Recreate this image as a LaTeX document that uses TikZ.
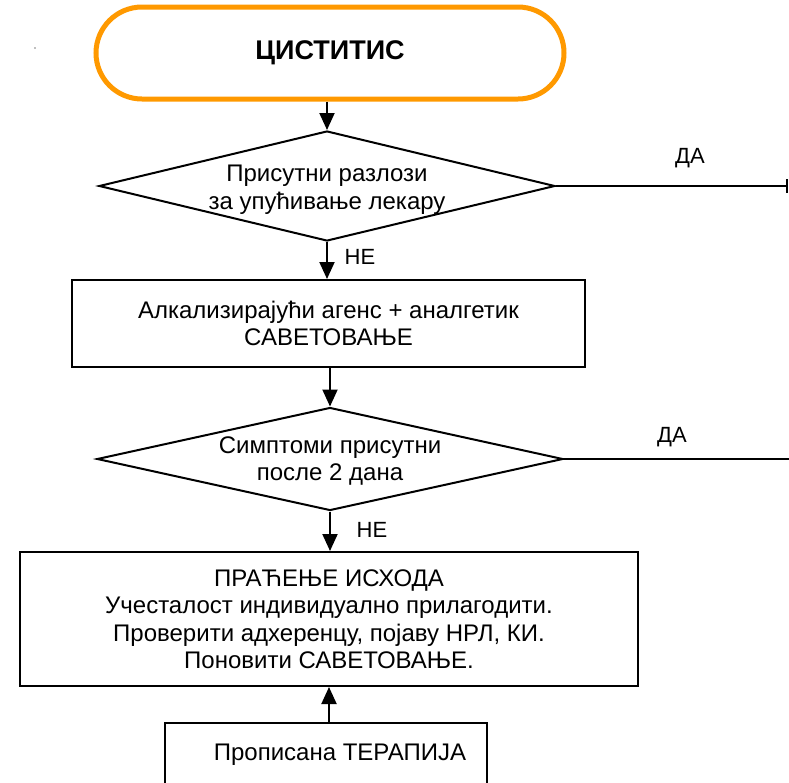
\documentclass[tikz,border=0pt]{standalone}
\usepackage{fontspec}
\setmainfont{Liberation Sans}
\usetikzlibrary{shapes.geometric,arrows.meta}

% centred lines in a zero-height box, lowered by the first argument
\newcommand{\lowerlines}[2]{\raisebox{-#1}[0pt][0pt]{\begin{tabular}{@{}c@{}}#2\end{tabular}}}

\begin{document}
\begin{tikzpicture}[x=1pt,y=-1pt,
  line/.style={line width=2pt,black},
  flow/.style={line,-{Triangle[length=17pt,width=15pt]}},
  bodytext/.style={font=\fontsize{24}{27.5}\selectfont},
  stepbox/.style={draw,line width=2pt,rectangle,align=center,bodytext,inner sep=0pt},
  decision/.style={draw,line width=2pt,diamond,align=center,bodytext,inner sep=0pt},
  terminal/.style={draw=termorange,line width=5pt,rounded corners=46pt,rectangle,
    align=center,font=\fontsize{27}{30}\selectfont\bfseries,inner sep=0pt},
  lbl/.style={font=\fontsize{22}{26}\selectfont}]
\definecolor{termorange}{RGB}{255,153,0}
\useasboundingbox (0,0) rectangle (789,782);

% start terminal
\node[terminal,minimum width=468pt,minimum height=92pt] (start) at (330,53) {ЦИСТИТИС};
\fill[gray] (35,48) circle (0.8pt);

% first decision and the box below it
\node[decision,aspect=4.15,minimum width=456pt,minimum height=110pt] (d1) at (327,186)
  {\lowerlines{10pt}{Присутни разлози\\за упућивање лекару}};
\coordinate (d1yes) at (788,186);
\node[stepbox,minimum width=513pt,minimum height=87pt] (b1) at (328.5,323.5)
  {Алкализирајући агенс + аналгетик\\САВЕТОВАЊЕ};

% second decision
\node[decision,aspect=4.52,minimum width=466pt,minimum height=103pt] (d2) at (330,459)
  {\lowerlines{8.5pt}{Симптоми присутни\\после 2 дана}};
\coordinate (d2yes) at (789,459);

% follow-up and therapy boxes
\node[stepbox,minimum width=618pt,minimum height=134pt] (b2) at (329,619)
  {ПРАЋЕЊЕ ИСХОДА\\Учесталост индивидуално прилагодити.\\Проверити адхеренцу, појаву НРЛ, КИ.\\Поновити САВЕТОВАЊЕ.};
\node[stepbox,minimum width=322pt,text height=37pt,text depth=45pt,anchor=north] (b3) at (326,722)
  {\hspace*{28pt}Прописана ТЕРАПИЈА};

% connectors
\draw[flow] (start.south -| d1.north) -- (d1.north);
\draw[flow] (d1.south) -- (d1.south |- b1.north);
\draw[flow] (b1.south -| d2.north) -- (d2.north);
\draw[flow] (d2.south) -- (d2.south |- b2.north);
\draw[flow] (b3.north -| b2.south) -- (b2.south);
\draw[line,-{Bar[width=14pt]}] (d1.east) -- (d1yes);
\draw[line] (d2.east) -- (d2yes);

% branch labels
\node[lbl] at (690,158) {ДА};
\node[lbl] at (672,437) {ДА};
\node[lbl] at (360,257) {НЕ};
\node[lbl] at (372,530) {НЕ};
\end{tikzpicture}
\end{document}
